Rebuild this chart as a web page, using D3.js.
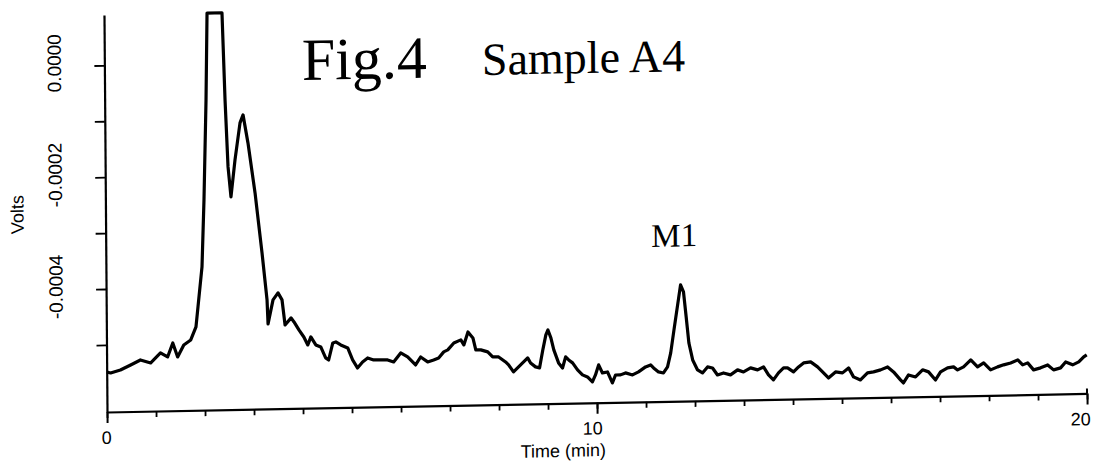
<!DOCTYPE html>
<html><head><meta charset="utf-8">
<script src="https://cdn.jsdelivr.net/npm/d3@7"></script>
<style>body{margin:0;background:#fff} svg{display:block}</style>
</head><body>
<svg id="c" width="1094" height="465"></svg>
<script>
// ---- data ----
const times = [0.0,0.08,0.28,0.49,0.69,0.90,1.10,1.245,1.353,1.45,1.577,1.72,1.829,1.873,1.961,2.012,2.069,2.103,2.408,2.457,2.508,2.563,2.651,2.759,2.822,2.918,3.055,3.188,3.283,3.30,3.405,3.508,3.589,3.647,3.771,3.83,3.929,4.028,4.108,4.171,4.271,4.372,4.47,4.531,4.618,4.68,4.78,4.922,5.02,5.118,5.223,5.327,5.449,5.592,5.735,5.857,6.002,6.143,6.304,6.408,6.551,6.673,6.776,6.88,6.963,7.088,7.231,7.292,7.378,7.478,7.535,7.637,7.778,7.878,8.0,8.141,8.202,8.301,8.447,8.592,8.651,8.751,8.833,8.902,8.967,9.01,9.069,9.127,9.222,9.302,9.367,9.429,9.508,9.608,9.708,9.81,9.91,9.973,10.039,10.116,10.219,10.317,10.382,10.484,10.586,10.729,10.852,10.996,11.1,11.16,11.26,11.361,11.445,11.512,11.582,11.676,11.723,11.782,11.833,11.884,11.959,12.057,12.157,12.261,12.363,12.463,12.586,12.729,12.873,12.995,13.139,13.282,13.404,13.504,13.604,13.708,13.812,13.894,14.015,14.118,14.222,14.366,14.506,14.607,14.727,14.872,15.014,15.139,15.238,15.38,15.524,15.648,15.792,15.935,16.056,16.196,16.256,16.361,16.504,16.649,16.77,16.911,17.015,17.159,17.282,17.363,17.486,17.633,17.771,17.896,18.037,18.18,18.304,18.447,18.592,18.692,18.794,18.914,19.057,19.202,19.322,19.465,19.569,19.712,19.837,19.939,20.0];
const volts = [-0.0005484,-0.0005503,-0.0005453,-0.0005367,-0.0005281,-0.0005338,-0.0005162,-0.0005236,-0.0004987,-0.0005239,-0.0005027,-0.000494,-0.0004709,-0.0004352,-0.0003638,-0.000244,-0.0000653,0.00009,0.00009,-0.0000658,-0.0001858,-0.0002395,-0.0001735,-0.0001075,-0.0000933,-0.0001435,-0.0002332,-0.0003407,-0.000425,-0.0004679,-0.0004252,-0.0004128,-0.0004255,-0.0004703,-0.0004579,-0.0004653,-0.0004797,-0.0004925,-0.0005069,-0.0004926,-0.0005071,-0.0005109,-0.0005307,-0.0005345,-0.0005041,-0.0005025,-0.000508,-0.0005136,-0.0005352,-0.0005497,-0.0005391,-0.0005322,-0.0005359,-0.0005361,-0.0005364,-0.0005402,-0.0005243,-0.0005316,-0.0005463,-0.0005322,-0.0005413,-0.0005379,-0.0005345,-0.0005239,-0.0005205,-0.0005082,-0.000503,-0.0005121,-0.0004891,-0.0005,-0.0005214,-0.0005216,-0.0005254,-0.0005345,-0.0005348,-0.000544,-0.0005493,-0.000562,-0.0005499,-0.0005375,-0.0005467,-0.0005538,-0.0005558,-0.0005238,-0.0004969,-0.0004882,-0.0005025,-0.0005241,-0.0005475,-0.0005567,-0.000537,-0.0005425,-0.0005479,-0.0005606,-0.0005697,-0.0005735,-0.0005826,-0.0005703,-0.0005524,-0.0005669,-0.0005653,-0.0005851,-0.000571,-0.000571,-0.0005676,-0.0005715,-0.0005663,-0.0005576,-0.0005542,-0.0005597,-0.000567,-0.000569,-0.0005583,-0.0005334,-0.0004923,-0.0004388,-0.0004121,-0.0004247,-0.0004696,-0.0005161,-0.0005467,-0.0005647,-0.0005703,-0.0005597,-0.0005617,-0.0005744,-0.000571,-0.0005747,-0.000566,-0.0005699,-0.0005629,-0.0005667,-0.0005615,-0.000576,-0.0005851,-0.0005728,-0.000564,-0.0005642,-0.0005715,-0.0005628,-0.0005558,-0.0005542,-0.0005633,-0.0005724,-0.0005835,-0.000573,-0.0005749,-0.0005662,-0.0005824,-0.0005882,-0.0005758,-0.0005742,-0.0005708,-0.0005658,-0.0005749,-0.0005894,-0.000595,-0.0005808,-0.0005846,-0.0005722,-0.000576,-0.0005907,-0.0005765,-0.0005696,-0.0005679,-0.0005735,-0.0005683,-0.000556,-0.0005688,-0.0005619,-0.0005746,-0.0005694,-0.000566,-0.0005628,-0.0005576,-0.0005667,-0.0005633,-0.000576,-0.0005726,-0.0005676,-0.0005767,-0.0005733,-0.0005629,-0.0005683,-0.0005633,-0.0005543,-0.0005509];

const xDomain = [0, 20];
const yDomain = [-0.00062, 0.00009];
const xMinorTicks = [0,1,2,3,4,5,6,7,8,9,10,11,12,13,14,15,16,17,18,19,20];
const xMajorTicks = [0, 10, 20];
const xTickLabels = ["0", "10", "20"];
const yTicks = [0, -0.0001, -0.0002, -0.0003, -0.0004, -0.0005];
const yLabelTicks = [0, -0.0002, -0.0004];
const yTickLabels = ["0.0000", "-0.0002", "-0.0004"];
const xTitle = "Time (min)";
const yTitle = "Volts";
const figTitle = "Fig.4";
const sampleTitle = "Sample A4";
const peakLabel = "M1";
const peakTime = 11.723;
const peakVolts = -0.0004121;

// ---- drawing ----
const svg = d3.select("#c");
// the scanned figure is slightly tilted/skewed
const g = svg.append("g").attr("transform", "matrix(1,-0.0189,0.0076,1,-3.131,2.02)");

const x = d3.scaleLinear(xDomain, [107, 1087]);
const y = d3.scaleLinear(yDomain, [412, 15]);

const sans = "'Liberation Sans', Arial, sans-serif";
const serif = "'Liberation Serif', 'Times New Roman', serif";

// x axis: minor ticks + domain line
const xMinor = g.append("g").attr("transform", `translate(0,${y(yDomain[0])})`)
  .call(d3.axisBottom(x).tickValues(xMinorTicks).tickSize(6).tickSizeOuter(0).tickFormat(""));
xMinor.select(".domain").attr("stroke", "#000").attr("stroke-width", 2.2);
xMinor.selectAll(".tick line").attr("stroke", "#000").attr("stroke-width", 1.8);

const labelShift = [-1, -5, -7];
const xMajor = g.append("g").attr("transform", `translate(0,${y(yDomain[0])})`)
  .call(d3.axisBottom(x).tickValues(xMajorTicks).tickSize(11).tickPadding(8)
    .tickFormat((d, i) => xTickLabels[i]));
xMajor.select(".domain").remove();
xMajor.selectAll(".tick line").attr("stroke", "#000").attr("stroke-width", 2);
xMajor.selectAll(".tick text").attr("fill", "#000").style("font-family", sans).style("font-size", "18px")
  .attr("dx", (d, i) => labelShift[i]);
// small upward tick at the right end
g.append("line").attr("x1", x(20)).attr("x2", x(20))
  .attr("y1", y(yDomain[0])).attr("y2", y(yDomain[0]) - 5)
  .attr("stroke", "#000").attr("stroke-width", 2);

// y axis
const yAx = g.append("g").attr("transform", `translate(${x(xDomain[0])},0)`)
  .call(d3.axisLeft(y).tickValues(yTicks).tickSize(10).tickSizeOuter(0).tickFormat(""));
yAx.select(".domain").attr("stroke", "#000").attr("stroke-width", 2.2);
yAx.selectAll(".tick line").attr("stroke", "#000").attr("stroke-width", 1.8);

g.selectAll(".ylab").data(yLabelTicks).join("text")
  .attr("class", "ylab")
  .attr("transform", d => `translate(${x(xDomain[0]) - 50},${y(d) - 3}) rotate(-90)`)
  .attr("text-anchor", "middle").attr("dominant-baseline", "central")
  .style("font-family", sans).style("font-size", "19px").attr("fill", "#000")
  .text((d, i) => yTickLabels[i]);

// axis titles
g.append("text").attr("x", 563).attr("y", 465.5).attr("text-anchor", "middle")
  .style("font-family", sans).style("font-size", "18px").text(xTitle);
g.append("text").attr("transform", "translate(19,213) rotate(-90)")
  .attr("text-anchor", "middle").attr("dominant-baseline", "central")
  .style("font-family", sans).style("font-size", "18px").text(yTitle);

// titles
g.append("text").attr("x", 304.5).attr("y", 83.7)
  .style("font-family", serif).style("font-size", "60px").text(figTitle);
g.append("text").attr("x", 484.6).attr("y", 82.1)
  .style("font-family", serif).style("font-size", "46px").text(sampleTitle);

// trace
const pts = times.map((t, i) => [t, volts[i]]);
g.append("path").datum(pts)
  .attr("fill", "none").attr("stroke", "#000").attr("stroke-width", 3.2)
  .attr("stroke-linejoin", "round")
  .attr("d", d3.line().x(d => x(d[0])).y(d => y(d[1])));

// peak label
g.append("text").attr("x", x(peakTime) - 6).attr("y", y(peakVolts) - 38.5)
  .attr("text-anchor", "middle")
  .style("font-family", serif).style("font-size", "33px").text(peakLabel);
</script>
</body></html>
